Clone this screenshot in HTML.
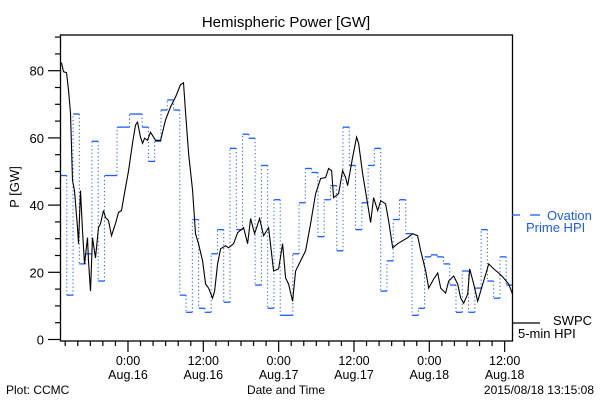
<!DOCTYPE html>
<html><head><meta charset="utf-8"><style>
body{margin:0;background:#fff;}
svg{display:block;font-family:"Liberation Sans","DejaVu Sans",sans-serif;}
</style></head><body>
<svg id="chart" width="600" height="400" viewBox="0 0 600 400" xmlns="http://www.w3.org/2000/svg">
<rect width="600" height="400" fill="#fff"/>
<text x="286" y="27" font-size="15" text-anchor="middle">Hemispheric Power [GW]</text>
<text transform="translate(19,187) rotate(-90)" font-size="13" text-anchor="middle">P [GW]</text>
<text x="286" y="394" font-size="12" text-anchor="middle">Date and Time</text>
<text x="6" y="394" font-size="12">Plot: CCMC</text>
<text x="594" y="394" font-size="12" text-anchor="end">2015/08/18 13:15:08</text>
<g id="axes"></g>
<g id="series"></g>
<rect x="60.5" y="35" width="452" height="306" fill="none" stroke="#000" stroke-width="1.3"/>
<g>
<line x1="512" y1="215" x2="520" y2="215" stroke="#1a5cff" stroke-width="1.3"/>
<line x1="530" y1="215" x2="540" y2="215" stroke="#1a5cff" stroke-width="1.3"/>
<text x="547" y="220" font-size="13" fill="#1a5cff">Ovation</text>
<text x="526" y="232" font-size="13" fill="#1a5cff">Prime HPI</text>
</g>
<g>
<line x1="512" y1="323" x2="540" y2="323" stroke="#000" stroke-width="1.3"/>
<text x="553" y="325" font-size="13">SWPC</text>
<text x="518" y="338" font-size="13">5-min HPI</text>
</g>
</svg>
<script>
const yTicks=[0,20,40,60,80];
const xTickHours=[10.75,22.75,34.75,46.75,58.75,70.75];
const xTickTimes=["0:00","12:00","0:00","12:00","0:00","12:00"];
const xTickDates=["Aug.16","Aug.16","Aug.17","Aug.17","Aug.18","Aug.18"];
const ovationValues=[48.8,13.2,67.1,22.5,25.5,59.0,17.4,48.8,48.8,63.2,63.2,67.1,67.1,63.2,53.0,59.0,68.3,71.3,68.3,13.2,8.1,35.7,9.3,8.1,25.5,32.7,11.1,56.9,32.7,61.1,59.9,16.2,51.8,9.3,41.6,7.2,7.2,25.5,40.7,50.9,49.7,30.6,41.6,45.8,26.4,63.2,51.8,32.7,40.7,51.8,56.9,14.4,23.4,35.7,41.6,31.5,7.2,9.3,24.6,25.2,24.6,22.5,16.2,8.1,20.4,8.1,15.3,32.7,17.4,12.3,24.6,16.2];
const swpcHours=[0.16,0.48,0.96,1.27,1.59,1.91,2.23,2.71,2.87,3.19,3.51,3.82,4.30,4.46,4.78,5.10,5.58,6.06,6.37,6.85,7.17,7.65,8.13,8.76,9.24,9.72,10.36,10.84,11.47,11.95,12.27,12.75,13.07,13.39,13.86,14.34,15.14,15.94,16.73,17.53,18.33,19.12,19.60,19.92,20.40,21.04,21.51,21.99,22.63,23.11,23.59,24.22,24.54,25.02,25.50,26.29,26.77,27.57,28.21,29.16,29.80,30.28,30.92,31.71,32.35,33.15,33.94,34.74,35.38,35.86,36.33,36.97,37.45,38.25,39.04,39.84,40.64,41.43,42.23,42.71,43.19,43.51,44.30,44.94,45.42,45.74,46.53,47.17,47.49,48.13,48.92,49.40,49.88,50.52,51.00,51.79,52.27,52.91,53.71,54.50,55.30,56.10,56.89,57.37,58.17,58.65,59.44,60.08,60.56,61.35,61.83,62.63,63.27,63.75,64.22,64.86,65.18,65.82,66.45,67.25,67.89,68.21,69.00,69.80,70.60,71.39,72.0];
const swpcValues=[82.4,79.7,79.4,74.3,67.4,47.3,44.3,33.3,28.5,44.3,32.4,22.5,30.3,23.4,14.4,30.3,24.3,33.3,34.5,38.4,36.3,35.4,30.9,34.5,37.8,38.4,45.2,50.3,58.4,63.8,64.7,60.2,58.4,59.9,59.3,61.7,59.3,59.3,65.3,69.2,72.2,75.8,76.4,67.4,55.4,44.3,31.5,28.5,23.4,16.5,15.3,12.3,14.4,22.5,27.0,27.9,27.3,28.5,31.8,33.3,28.5,36.0,31.5,36.0,30.9,33.3,20.4,21.0,28.5,18.3,16.5,11.4,20.4,23.4,26.4,34.5,43.4,47.9,48.2,50.9,50.3,42.2,43.4,50.3,48.2,45.8,54.2,60.2,58.4,49.4,40.4,34.8,42.2,38.4,41.3,40.4,35.4,27.3,28.5,29.4,30.3,31.5,30.9,26.4,20.4,15.3,18.0,19.8,15.3,13.8,17.4,18.9,16.5,12.3,10.8,13.5,21.0,16.5,11.4,16.5,20.4,22.5,21.0,19.8,18.3,16.5,13.5];

const X0=60.5,PXH=452/72;
const xs=h=>X0+h*PXH;
const ys=v=>339.5-v*3.36;
const NS="http://www.w3.org/2000/svg";
function mk(tag,attrs,parent){const e=document.createElementNS(NS,tag);for(const k in attrs)e.setAttribute(k,attrs[k]);parent.appendChild(e);return e;}
const axes=document.getElementById('axes'),series=document.getElementById('series');
for(let v=0;v<=90;v+=5){const major=v%20===0;const t=mk('line',{x1:major?48:55,x2:60.5,y1:ys(v),y2:ys(v),stroke:'#000','stroke-width':1.2},axes);

}
yTicks.forEach(v=>{const t=mk('text',{x:44,y:ys(v)+5,'font-size':13,'text-anchor':'end'},axes);t.textContent=v;

});
for(let h=0.75;h<=72;h+=2){const major=xTickHours.some(m=>Math.abs(m-h)<0.01);const t=mk('line',{x1:xs(h),x2:xs(h),y1:341,y2:major?352:346,stroke:'#000','stroke-width':1.2},axes);

}
xTickHours.forEach((h,i)=>{const a=mk('text',{x:xs(h),y:365,'font-size':12.5,'text-anchor':'middle'},axes);a.textContent=xTickTimes[i];


const b=mk('text',{x:xs(h),y:379,'font-size':12.5,'text-anchor':'middle'},axes);b.textContent=xTickDates[i];

});
ovationValues.forEach((v,i)=>{const s=mk('line',{x1:xs(i),x2:xs(i+1),y1:ys(v),y2:ys(v),stroke:'#1a5cff','stroke-width':1.3},series);


if(i>0){const c=mk('line',{x1:xs(i),x2:xs(i),y1:ys(ovationValues[i-1]),y2:ys(v),stroke:'#1a5cff','stroke-width':1,'stroke-dasharray':'1.2,2.5'},series);

}});
const d=swpcHours.map((h,i)=>(i?'L':'M')+xs(h).toFixed(1)+','+ys(swpcValues[i]).toFixed(1)).join('');
const p=mk('path',{d:d,fill:'none',stroke:'#000','stroke-width':1.1},series);


</script>
</body></html>
